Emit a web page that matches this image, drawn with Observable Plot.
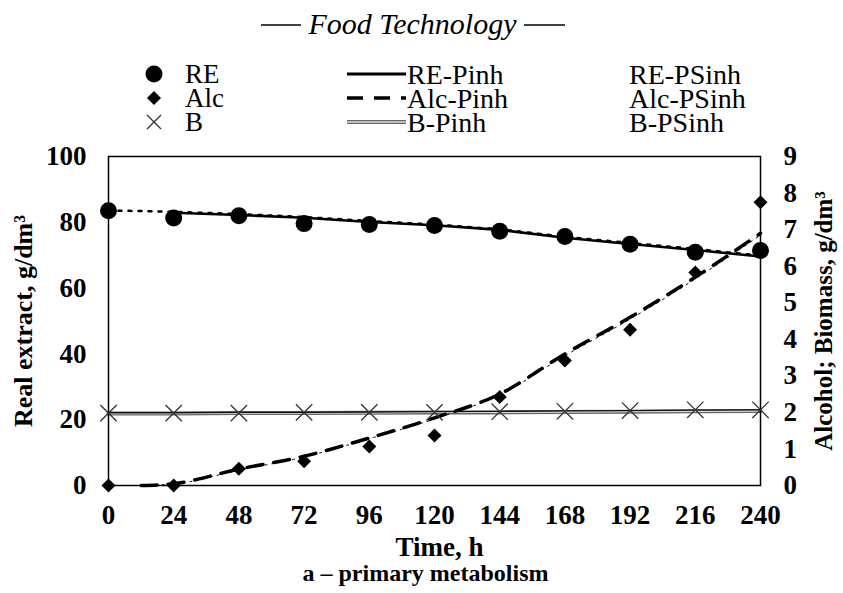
<!DOCTYPE html>
<html><head><meta charset="utf-8">
<script src="https://cdn.jsdelivr.net/npm/d3@7"></script>
<script src="https://cdn.jsdelivr.net/npm/@observablehq/plot@0.6"></script>
<style>
body{margin:0;background:#fff;width:843px;height:593px;overflow:hidden;font-family:"Liberation Serif","Times New Roman",serif;}
#head,#chart{display:block;}
svg{display:block;}
</style></head><body>
<div id="head"></div>
<div id="chart"></div>
<script>
// ---- data ----
const hours = [0, 24, 48, 72, 96, 120, 144, 168, 192, 216, 240];
const reObs  = [83.5, 81.3, 82.0, 79.6, 79.3, 79.0, 77.3, 75.7, 73.3, 70.9, 71.4];   // g/dm3, left axis
const alcObs = [0, 0, 0.46, 0.66, 1.07, 1.37, 2.42, 3.42, 4.26, 5.83, 7.75];        // g/dm3, right axis
const bObs   = [1.98, 1.98, 1.98, 2.0, 2.0, 2.0, 2.02, 2.03, 2.05, 2.07, 2.07];      // g/dm3, right axis

const rePinhHours = [24, 48, 72, 96, 120, 144, 168, 192, 216, 240];
const rePinh      = [82.9, 82.2, 81.4, 80.1, 79.1, 77.7, 75.3, 73.4, 71.6, 69.6];
const rePSinhHours = [0, 24, 48, 72, 96, 120, 144, 168, 192, 216, 240];
const rePSinh      = [83.6, 83.2, 82.5, 81.6, 80.4, 79.3, 77.9, 75.6, 73.7, 71.9, 69.9];

const alcPinhHours = [12, 24, 48, 72, 96, 120, 144, 168, 192, 216, 240];
const alcPinh      = [0, 0.05, 0.45, 0.8, 1.3, 1.85, 2.5, 3.6, 4.6, 5.7, 6.9];
const alcPSinhHours = [12, 24, 48, 72, 96, 120, 144, 168, 192, 216, 240];
const alcPSinh      = [0, 0.04, 0.42, 0.78, 1.28, 1.82, 2.48, 3.55, 4.55, 5.65, 6.85];

const bPinhHours = [0, 24, 48, 72, 96, 120, 144, 168, 192, 216, 240];
const bPinh      = [1.97, 1.97, 1.98, 1.98, 1.99, 2.0, 2.0, 2.01, 2.02, 2.03, 2.04];
const bPSinhHours = [0, 24, 48, 72, 96, 120, 144, 168, 192, 216, 240];
const bPSinh      = [1.99, 1.99, 2.0, 2.0, 2.01, 2.02, 2.03, 2.04, 2.05, 2.06, 2.07];

const leftTicks  = [0, 20, 40, 60, 80, 100];
const rightTicks = [0, 1, 2, 3, 4, 5, 6, 7, 8, 9];

const titleText = "Food Technology";
const legendObs   = ["RE", "Alc", "B"];
const legendPinh  = ["RE-Pinh", "Alc-Pinh", "B-Pinh"];
const legendPSinh = ["RE-PSinh", "Alc-PSinh", "B-PSinh"];
const xLabel = "Time, h";
const caption = "a \u2013 primary metabolism";
const yLeftLabel = "Real extract, g/dm\u00B3";
const yRightLabel = "Alcohol; Biomass, g/dm\u00B3";

// ---- header: title + legend ----
const rowY = [74, 98, 122];
const F = '"Liberation Serif","Times New Roman",serif';
let h = `<svg width="843" height="140" xmlns="http://www.w3.org/2000/svg" font-family='${F}'>`;
h += `<line x1="261" x2="301" y1="25" y2="25" stroke="#000" stroke-width="1.6"/>`;
h += `<line x1="524" x2="565" y1="25" y2="25" stroke="#000" stroke-width="1.6"/>`;
h += `<text x="412.5" y="23" text-anchor="middle" dominant-baseline="central" font-style="italic" font-size="30">${titleText}</text>`;
rowY.forEach((y, i) => {
  // observed-symbol column
  if (i === 0) h += `<circle cx="154" cy="${y}" r="8.5" fill="#000"/>`;
  if (i === 1) h += `<path d="M154,${y-7}L161,${y}L154,${y+7}L147,${y}Z" fill="#000"/>`;
  if (i === 2) h += `<path d="M147,${y-7}L161,${y+7}M161,${y-7}L147,${y+7}" stroke="#333" stroke-width="1.3"/>`;
  h += `<text x="185" y="${y}" dominant-baseline="central" font-size="27">${legendObs[i]}</text>`;
  // Pinh column
  if (i === 0) h += `<line x1="347" x2="406" y1="${y}" y2="${y}" stroke="#000" stroke-width="3"/>`;
  if (i === 1) h += `<line x1="347" x2="406" y1="${y}" y2="${y}" stroke="#000" stroke-width="3.5" stroke-dasharray="16,11"/>`;
  if (i === 2) { h += `<line x1="347" x2="406" y1="${y}" y2="${y}" stroke="#666" stroke-width="4"/>`;
                 h += `<line x1="347" x2="406" y1="${y}" y2="${y}" stroke="#ddd" stroke-width="1.4"/>`; }
  h += `<text x="407" y="${y}" dominant-baseline="central" font-size="28">${legendPinh[i]}</text>`;
  // PSinh column
  h += `<text x="629" y="${y}" dominant-baseline="central" font-size="28">${legendPSinh[i]}</text>`;
});
h += `</svg>`;
document.getElementById("head").innerHTML = h;

// ---- chart ----
const toL = v => v * 100 / 9; // right-axis units -> left-axis units
const rows = (xs, vs) => xs.map((x, i) => ({h: x, v: vs[i]}));

const chart = Plot.plot({
  width: 843,
  height: 453,
  marginTop: 16,
  marginBottom: 108,
  marginLeft: 108,
  marginRight: 83,
  x: {domain: [0, 240]},
  y: {domain: [0, 100]},
  style: {fontFamily: F, fontSize: "27px", fontWeight: "bold", background: "white", color: "black"},
  marks: [
    Plot.axisY({anchor: "left", ticks: leftTicks, tickSize: 0, tickPadding: 22, label: null}),
    Plot.axisY({anchor: "right", ticks: rightTicks.map(toL), tickFormat: d => String(Math.round(d * 9 / 100)), tickSize: 0, tickPadding: 23, label: null}),
    Plot.axisX({ticks: hours, tickSize: 0, tickPadding: 19, label: null}),
    // biomass lines
    Plot.line(rows(bPinhHours, bPinh), {x: "h", y: d => toL(d.v), stroke: "#666", strokeWidth: 4}),
    Plot.line(rows(bPinhHours, bPinh), {x: "h", y: d => toL(d.v), stroke: "#ddd", strokeWidth: 1.4}),
    Plot.line(rows(bPSinhHours, bPSinh), {x: "h", y: d => toL(d.v), stroke: "#111", strokeWidth: 1.3}),
    // real extract lines
    Plot.line(rows(rePSinhHours, rePSinh), {x: "h", y: "v", stroke: "#000", strokeWidth: 2.5, strokeDasharray: "3,7"}),
    Plot.line(rows(rePinhHours, rePinh), {x: "h", y: "v", stroke: "#000", strokeWidth: 2.6}),
    // alcohol lines
    Plot.line(rows(alcPSinhHours, alcPSinh), {x: "h", y: d => toL(d.v), stroke: "#000", strokeWidth: 1, strokeDasharray: "2,5", curve: "monotone-x"}),
    Plot.line(rows(alcPinhHours, alcPinh), {x: "h", y: d => toL(d.v), stroke: "#000", strokeWidth: 3.5, strokeDasharray: "16,11", curve: "monotone-x"}),
    Plot.frame({stroke: "#000", strokeWidth: 1.5}),
    // observations
    Plot.dot(rows(hours, bObs), {x: "h", y: d => toL(d.v), symbol: "times", r: 7.5, stroke: "#333", strokeWidth: 1.3}),
    Plot.dot(rows(hours, reObs), {x: "h", y: "v", r: 8.5, fill: "#000"}),
    Plot.dot(rows(hours, alcObs), {x: "h", y: d => toL(d.v), symbol: "diamond2", r: 6.3, fill: "#000"}),
    // axis titles and caption
    Plot.text([xLabel], {frameAnchor: "bottom", dy: 62, dx: 5, text: d => d, fontSize: 27, fontWeight: "bold", lineAnchor: "middle", textAnchor: "middle"}),
    Plot.text([caption], {frameAnchor: "bottom", dy: 88, dx: -9, text: d => d, fontSize: 24, fontWeight: "bold", lineAnchor: "middle", textAnchor: "middle"}),
    Plot.text([yLeftLabel], {frameAnchor: "left", dx: -85, text: d => d, rotate: -90, fontSize: 26, fontWeight: "bold", textAnchor: "middle", lineAnchor: "middle"}),
    Plot.text([yRightLabel], {frameAnchor: "right", dx: 63, text: d => d, rotate: -90, fontSize: 25, fontWeight: "bold", textAnchor: "middle", lineAnchor: "middle"})
  ]
});
document.getElementById("chart").appendChild(chart);
</script>
</body></html>
